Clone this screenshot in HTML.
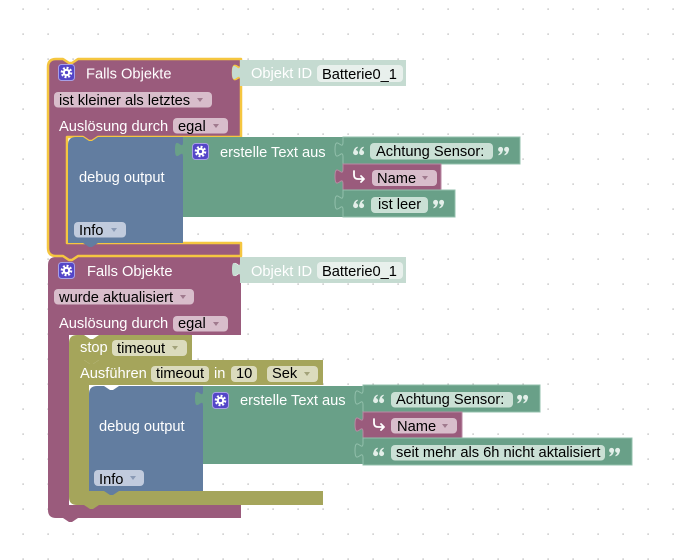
<!DOCTYPE html>
<html><head><meta charset="utf-8"><style>
html,body{margin:0;padding:0;background:#fff;}
svg{display:block;}
text{font-family:"Liberation Sans",Arial,sans-serif;font-size:14.67px;}
.w{fill:#fff;}
.k{fill:#000;}
</style></head><body>
<svg width="693" height="560" viewBox="0 0 693 560" xmlns="http://www.w3.org/2000/svg">
<defs>
<pattern id="grid" x="0" y="0" width="25" height="25" patternUnits="userSpaceOnUse">
<rect x="22.5" y="8.5" width="1.2" height="1.2" fill="#a8a8a8"/>
</pattern>
<g id="gear">
<rect x="0.5" y="0.5" width="16" height="16" rx="3" fill="#5446c8" stroke="#a89fe6" stroke-width="1"/>
<circle cx="8.5" cy="8.5" r="4.6" fill="none" stroke="#fff" stroke-width="2.4" stroke-dasharray="1.9 1.7"/>
<circle cx="8.5" cy="8.5" r="3.8" fill="#fff"/>
<circle cx="8.5" cy="8.5" r="1.6" fill="#5446c8"/>
</g>
<g id="oq">
<circle cx="2.6" cy="1.6" r="2.5"/>
<path d="M0.4,1.2 Q0.6,-3.2 4.6,-4.4 L4.8,-3.2 Q2.8,-2 2.6,0 Z"/>
<circle cx="8.6" cy="1.6" r="2.5"/>
<path d="M6.4,1.2 Q6.6,-3.2 10.6,-4.4 L10.8,-3.2 Q8.8,-2 8.6,0 Z"/>
</g>
<g id="cq">
<circle cx="2.6" cy="-1.6" r="2.5"/>
<path d="M4.8,-1.2 Q4.6,3.2 0.6,4.4 L0.4,3.2 Q2.4,2 2.6,0 Z"/>
<circle cx="8.6" cy="-1.6" r="2.5"/>
<path d="M10.8,-1.2 Q10.6,3.2 6.6,4.4 L6.4,3.2 Q8.4,2 8.6,0 Z"/>
</g>
</defs>
<rect width="693" height="560" fill="#fff"/>
<rect width="693" height="560" fill="url(#grid)"/>

<!-- ===== BLOCK 2 ===== -->
<path d="M48,265 Q48,257 56,257 H63 l6,4 h3 l6,-4 H241 V262 c0,10 -8,-8 -8,7.5 s8,-2.5 8,7.5 V335 H69 V505 H241 V518 H78 l-6,4 h-3 l-6,-4 H56 Q48,518 48,510 Z" fill="#9a5b7c"/>
<use href="#gear" x="58" y="262"/>
<text x="87" y="276" class="w">Falls Objekte</text>
<rect x="54" y="289" width="140" height="15.5" rx="4" fill="#d8bdcb"/>
<text x="59" y="302" class="k">wurde aktualisiert</text>
<polygon points="180,295 186,295 183,299" fill="#a07a8e"/>
<text x="59" y="328" class="w">Auslösung durch</text>
<rect x="173" y="316" width="55" height="15.5" rx="4" fill="#d8bdcb"/>
<text x="178" y="328" class="k">egal</text>
<polygon points="213,322 219,322 216,326" fill="#a07a8e"/>

<!-- object id 2 -->
<path d="M240,257 H406 V283 H240 V277 c0,-10 -8,8 -8,-7.5 s8,2.5 8,-7.5 Z" fill="#c5dbd1"/>
<text x="251" y="276" class="w">Objekt ID</text>
<rect x="317" y="262" width="86" height="17" rx="4" fill="#e8f0ec"/>
<text x="322" y="276" class="k">Batterie0_1</text>

<!-- Ausführen C block -->
<path d="M69,360 H84 l6,4 h3 l6,-4 H323 V385 H89 V491 H323 V505 H99 l-6,4 h-3 l-6,-4 H77 Q69,505 69,497 Z" fill="#a5a55b"/>
<text x="80" y="378" class="w">Ausführen</text>
<rect x="151" y="366" width="58" height="16" rx="4" fill="#dbdbbd"/>
<text x="156" y="378" class="k">timeout</text>
<text x="214" y="378" class="w">in</text>
<rect x="231" y="366" width="26" height="16" rx="4" fill="#dbdbbd"/>
<text x="236" y="378" class="k">10</text>
<rect x="267" y="366" width="51" height="16" rx="4" fill="#dbdbbd"/>
<text x="272" y="378" class="k">Sek</text>
<polygon points="304,372 310,372 307,376" fill="#a3a37a"/>

<!-- stop block -->
<path d="M69,343 Q69,335 77,335 H84 l6,4 h3 l6,-4 H192 V360 H99 l-6,4 h-3 l-6,-4 H69 Z" fill="#a5a55b"/>
<text x="80" y="352" class="w">stop</text>
<rect x="112" y="340" width="75" height="16" rx="4" fill="#dbdbbd"/>
<text x="117" y="353" class="k">timeout</text>
<polygon points="172,346 178,346 175,350" fill="#a3a37a"/>

<!-- debug 2 -->
<path d="M89,394 Q89,386 97,386 H104 l6,4 h3 l6,-4 H203 V491 H119 l-6,4 h-3 l-6,-4 H89 Z" fill="#627da0"/>
<text x="99" y="431" class="w">debug output</text>
<rect x="94" y="470" width="50" height="16" rx="4" fill="#c1cbdd"/>
<text x="99" y="484" class="k">Info</text>
<polygon points="130,476 136,476 133,480" fill="#8a9ab5"/>

<!-- green 2 -->
<path d="M203,386 H363 V464 H203 V406 c0,-10 -8,8 -8,-7.5 s8,2.5 8,-7.5 Z" fill="#69a088"/>
<use href="#gear" x="212" y="392"/>
<text x="240" y="405" class="w">erstelle Text aus</text>

<path d="M363,385 H540 V412 H363 V405 c0,-10 -8,8 -8,-7.5 s8,2.5 8,-7.5 Z" fill="#69a088" stroke="#93c0ac" stroke-width="1"/>
<use href="#oq" x="373" y="399" fill="#e3efe9"/>
<rect x="391" y="392" width="122" height="15.5" rx="4" fill="#cae0d5"/>
<text x="396" y="404" class="k">Achtung Sensor:</text>
<use href="#cq" x="517" y="399" fill="#e3efe9"/>

<path d="M363,412 H462 V438 H363 V432 c0,-10 -8,8 -8,-7.5 s8,2.5 8,-7.5 Z" fill="#9a5b7c" stroke="#b98aa3" stroke-width="1"/>
<path d="M374,419 V423 Q374,427 378,427 H384 M381,424 L384,427 L381,430" fill="none" stroke="#fff" stroke-width="1.8" stroke-linecap="round" stroke-linejoin="round"/>
<rect x="391" y="418" width="66" height="15.5" rx="4" fill="#d8bdcb"/>
<text x="397" y="431" class="k">Name</text>
<polygon points="442,424 448,424 445,428" fill="#a07a8e"/>

<path d="M363,438 H632 V465 H363 V458 c0,-10 -8,8 -8,-7.5 s8,2.5 8,-7.5 Z" fill="#69a088" stroke="#93c0ac" stroke-width="1"/>
<use href="#oq" x="373" y="452" fill="#e3efe9"/>
<rect x="391" y="445" width="214" height="15.5" rx="4" fill="#cae0d5"/>
<text x="396" y="457" class="k">seit mehr als 6h nicht aktalisiert</text>
<use href="#cq" x="609" y="452" fill="#e3efe9"/>

<!-- ===== BLOCK 1 (selected) ===== -->
<path d="M48,67 Q48,59 56,59 H63 l6,4 h3 l6,-4 H241 V65 c0,10 -8,-8 -8,7.5 s8,-2.5 8,7.5 V137 H98 l-6,4 h-3 l-6,-4 H67 V243 H241 V256 H78 l-6,4 h-3 l-6,-4 H56 Q48,256 48,248 Z" fill="#9a5b7c" stroke="#f5c640" stroke-width="2.5" stroke-linejoin="round"/>
<use href="#gear" x="58" y="64"/>
<text x="86" y="78.5" class="w">Falls Objekte</text>
<rect x="54" y="92" width="158" height="15.5" rx="4" fill="#d8bdcb"/>
<text x="59" y="105" class="k">ist kleiner als letztes</text>
<polygon points="197,98 203,98 200,102" fill="#a07a8e"/>
<text x="59" y="131" class="w">Auslösung durch</text>
<rect x="173" y="118" width="55" height="15.5" rx="4" fill="#d8bdcb"/>
<text x="178" y="131" class="k">egal</text>
<polygon points="213,124 219,124 216,128" fill="#a07a8e"/>

<!-- object id 1 -->
<path d="M240,60 H406 V86 H240 V80 c0,-10 -8,8 -8,-7.5 s8,2.5 8,-7.5 Z" fill="#c5dbd1"/>
<text x="251" y="78" class="w">Objekt ID</text>
<rect x="317" y="65" width="86" height="17" rx="4" fill="#e8f0ec"/>
<text x="322" y="79" class="k">Batterie0_1</text>

<!-- debug 1 -->
<path d="M68,145 Q68,137 76,137 H83 l6,4 h3 l6,-4 H183 V243 H98 l-6,4 h-3 l-6,-4 H68 Z" fill="#627da0"/>
<text x="79" y="182" class="w">debug output</text>
<rect x="74" y="222" width="52" height="15.5" rx="4" fill="#c1cbdd"/>
<text x="79" y="235" class="k">Info</text>
<polygon points="111,228 117,228 114,232" fill="#8a9ab5"/>

<!-- green 1 -->
<path d="M183,137 H343 V217 H183 V157 c0,-10 -8,8 -8,-7.5 s8,2.5 8,-7.5 Z" fill="#69a088"/>
<use href="#gear" x="192" y="143"/>
<text x="220" y="157" class="w">erstelle Text aus</text>

<path d="M343,137 H520 V164 H343 V157 c0,-10 -8,8 -8,-7.5 s8,2.5 8,-7.5 Z" fill="#69a088" stroke="#93c0ac" stroke-width="1"/>
<use href="#oq" x="353" y="151" fill="#e3efe9"/>
<rect x="370" y="143" width="123" height="16.5" rx="4" fill="#cae0d5"/>
<text x="376" y="156" class="k">Achtung Sensor:</text>
<use href="#cq" x="498" y="151" fill="#e3efe9"/>

<path d="M343,164 H441 V190 H343 V184 c0,-10 -8,8 -8,-7.5 s8,2.5 8,-7.5 Z" fill="#9a5b7c" stroke="#b98aa3" stroke-width="1"/>
<path d="M354,171 V175 Q354,179 358,179 H364 M361,176 L364,179 L361,182" fill="none" stroke="#fff" stroke-width="1.8" stroke-linecap="round" stroke-linejoin="round"/>
<rect x="372" y="170" width="65" height="16" rx="4" fill="#d8bdcb"/>
<text x="377" y="183" class="k">Name</text>
<polygon points="422,176 428,176 425,180" fill="#a07a8e"/>

<path d="M343,190 H455 V217 H343 V210 c0,-10 -8,8 -8,-7.5 s8,2.5 8,-7.5 Z" fill="#69a088" stroke="#93c0ac" stroke-width="1"/>
<use href="#oq" x="353" y="204" fill="#e3efe9"/>
<rect x="371" y="197" width="57" height="16" rx="4" fill="#cae0d5"/>
<text x="378" y="209" class="k">ist leer</text>
<use href="#cq" x="433" y="204" fill="#e3efe9"/>
</svg>
</body></html>
